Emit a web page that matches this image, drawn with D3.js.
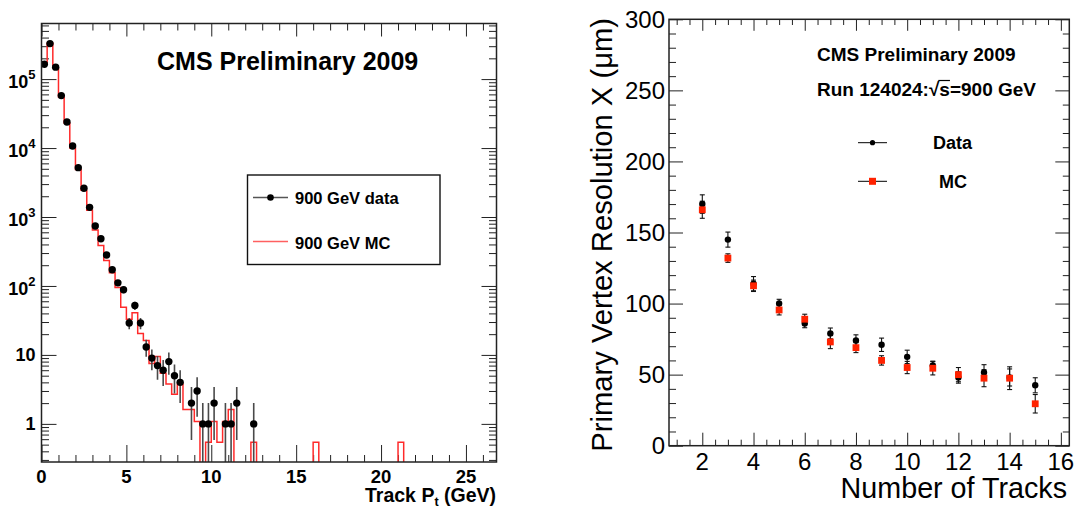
<!DOCTYPE html>
<html>
<head>
<meta charset="utf-8">
<script src="https://cdn.jsdelivr.net/npm/d3@7"></script>
<style>
  body { margin: 0; background: #fff; }
  text { font-family: "Liberation Sans", Arial, Helvetica, sans-serif; }
</style>
</head>
<body>
<svg id="chart" width="1075" height="508"></svg>
<script>
// ---- left plot: track pt spectrum (bins of 1/3 GeV) ----
const ptBinWidth = 1 / 3;
const ptDataCounts = [164000, 327000, 149000, 57600, 23900, 10700, 5200, 2610, 1380, 741,
    484, 281, 172, 111, 88, 29, 52, 29, 13, 9,
    7, 6, 8, 5, 4, 0, 2, 3, 1, 1,
    2, 0, 1, 1, 2, 0, 0, 1];
const ptMcHead = [165000, 330000, 145000, 55000, 23000, 10000, 4900, 2450, 1250, 650,
    385, 235, 155, 95, 49, 33, 41, 20.5, 16.2, 7.5,
    9.5, 5.4, 3.78, 2.7, 3.78, 1.62, 1.62, 1.08, 0, 0.54,
    1.08, 0.54, 1.08, 1.62, 0, 0, 0, 0.54];
const ptMcTail = [{ bin: 48, value: 0.54 }, { bin: 63, value: 0.54 }];
const ptXTicks = [0, 5, 10, 15, 20, 25];
const ptYDecades = [1, 10, 100, 1000, 10000, 100000];

// ---- right plot: vertex resolution vs number of tracks ----
const nTracks = [2, 3, 4, 5, 6, 7, 8, 9, 10, 11, 12, 13, 14, 15];
const resData = [170, 145, 114, 100, 86, 79, 74, 71, 62.5, 56.5, 48, 51.5, 48, 42.5];
const resDataErr = [6.5, 5.3, 5, 3, 3, 3.8, 4, 4.7, 4.7, 3, 4, 5.5, 6, 5.3];
const resMc = [166, 132, 112.5, 95.5, 89, 73, 69, 60, 55, 54.5, 50, 47.5, 47.5, 29.5];
const resMcErr = [6, 3, 4, 3.5, 3.5, 4.7, 3.5, 3.3, 4.3, 4.7, 5, 6, 8, 6.5];
const resXTicks = [2, 4, 6, 8, 10, 12, 14, 16];
const resYTicks = [0, 50, 100, 150, 200, 250, 300];

const svg = d3.select('#chart');

// draws inward ROOT-style ticks with a d3 axis, no labels
function drawTicks(axisFn, scale, pos, values, size) {
    const horiz = axisFn === d3.axisBottom || axisFn === d3.axisTop;
    svg.append('g')
        .attr('transform', horiz ? `translate(0,${pos})` : `translate(${pos},0)`)
        .call(axisFn(scale).tickValues(values).tickSize(-size).tickSizeOuter(0).tickFormat(''))
        .call(g => g.select('.domain').remove())
        .selectAll('line').attr('stroke', '#222');
}

// ================= LEFT =================
const xL = d3.scaleLinear().domain([0, 26.8]).range([41.5, 496.5]);
const yL = d3.scaleLog().domain([0.28, 6.4e5]).range([462, 23.5]);
const [lx0, lx1] = xL.range();
const [ly0, ly1] = yL.range();

svg.append('clipPath').attr('id', 'clipL')
    .append('rect').attr('x', lx0).attr('y', ly1).attr('width', lx1 - lx0).attr('height', ly0 - ly1);

const ptMinor = d3.range(0, 27, 1).filter(v => v % 5 !== 0);
drawTicks(d3.axisBottom, xL, ly0, ptXTicks, 17);
drawTicks(d3.axisBottom, xL, ly0, ptMinor, 7);
drawTicks(d3.axisTop, xL, ly1, ptXTicks, 13);
drawTicks(d3.axisTop, xL, ly1, ptMinor, 7);

const logMinor = [];
[0.1, 1, 10, 100, 1000, 10000, 100000].forEach(d => {
    for (let k = 2; k <= 9; k++) {
        const v = k * d;
        if (v >= 0.28 && v <= 6.4e5) logMinor.push(v);
    }
});
drawTicks(d3.axisLeft, yL, lx0, ptYDecades, 15);
drawTicks(d3.axisLeft, yL, lx0, logMinor, 7.5);
drawTicks(d3.axisRight, yL, lx1, ptYDecades, 15);
drawTicks(d3.axisRight, yL, lx1, logMinor, 7.5);

// MC histogram as a step line
const ptMcAll = d3.range(80).map(() => 0);
ptMcHead.forEach((v, i) => { ptMcAll[i] = v; });
ptMcTail.forEach(t => { ptMcAll[t.bin] = t.value; });
const stepPts = ptMcAll.map((v, i) => [i * ptBinWidth, v]);
stepPts.push([26.8, 0]);
const yClamp = v => v > 0 ? yL(v) : ly0 + 2;

svg.append('path')
    .attr('clip-path', 'url(#clipL)')
    .attr('d', d3.line().x(d => xL(d[0])).y(d => yClamp(d[1])).curve(d3.curveStepAfter)(stepPts))
    .attr('fill', 'none')
    .attr('stroke', '#ff2a2a')
    .attr('stroke-width', 1.5);

// data points with sqrt(N) errors
const ptData = ptDataCounts.map((n, i) => ({ x: (i + 0.5) * ptBinWidth, n }))
    .filter(d => d.n > 0);
const dataG = svg.append('g').attr('clip-path', 'url(#clipL)');
dataG.selectAll('line.err').data(ptData).join('line')
    .attr('class', 'err')
    .attr('x1', d => xL(d.x)).attr('x2', d => xL(d.x))
    .attr('y1', d => yL(d.n + Math.sqrt(d.n)))
    .attr('y2', d => yClamp(d.n - Math.sqrt(d.n)))
    .attr('stroke', '#4a4a4a')
    .attr('stroke-width', 1.6);
dataG.selectAll('circle').data(ptData).join('circle')
    .attr('cx', d => xL(d.x)).attr('cy', d => yL(d.n))
    .attr('r', 3.7)
    .attr('fill', '#000');

svg.append('rect')
    .attr('x', lx0).attr('y', ly1).attr('width', lx1 - lx0).attr('height', ly0 - ly1)
    .attr('fill', 'none').attr('stroke', '#222').attr('stroke-width', 1.5);

// tick labels
svg.append('g').selectAll('text').data(ptXTicks).join('text')
    .attr('x', d => xL(d)).attr('y', 482.5)
    .attr('text-anchor', 'middle')
    .attr('font-size', 18.5).attr('font-weight', 'bold')
    .text(d => d);

ptYDecades.forEach(v => {
    const p = Math.round(Math.log10(v));
    const t = svg.append('text')
        .attr('x', 35.5)
        .attr('text-anchor', 'end')
        .attr('font-size', 18).attr('font-weight', 'bold');
    if (p <= 1) {
        t.attr('y', yL(v) + 6.5).text(v);
    } else {
        t.attr('y', yL(v) + 9.3).text('10');
        t.append('tspan').attr('dy', -9.6).attr('font-size', 13).text(p);
    }
});

const ptTitle = svg.append('text')
    .attr('x', 496).attr('y', 501.5)
    .attr('text-anchor', 'end')
    .attr('font-size', 19.5).attr('font-weight', 'bold');
ptTitle.append('tspan').text('Track P');
ptTitle.append('tspan').attr('font-size', 12.5).attr('dy', 4).text('t');
ptTitle.append('tspan').attr('dy', -4).text(' (GeV)');

svg.append('text')
    .attr('x', 157).attr('y', 69.5)
    .attr('font-size', 25).attr('font-weight', 'bold')
    .text('CMS Preliminary 2009');

// legend
svg.append('rect')
    .attr('x', 247.5).attr('y', 175).attr('width', 192.5).attr('height', 89.5)
    .attr('fill', '#fff').attr('stroke', '#111').attr('stroke-width', 1.4);
svg.append('line').attr('x1', 253).attr('x2', 288).attr('y1', 197.5).attr('y2', 197.5)
    .attr('stroke', '#555').attr('stroke-width', 1.5);
svg.append('circle').attr('cx', 270.5).attr('cy', 197.5).attr('r', 3.3).attr('fill', '#000');
svg.append('line').attr('x1', 253).attr('x2', 288).attr('y1', 241.5).attr('y2', 241.5)
    .attr('stroke', '#ff6060').attr('stroke-width', 1.5);
svg.append('text').attr('x', 295).attr('y', 203.5)
    .attr('font-size', 16.5).attr('font-weight', 'bold').text('900 GeV data');
svg.append('text').attr('x', 295).attr('y', 248.5)
    .attr('font-size', 16.5).attr('font-weight', 'bold').text('900 GeV MC');

// ================= RIGHT =================
const xR = d3.scaleLinear().domain([0.7, 16.33]).range([669, 1069.3]);
const yR = d3.scaleLinear().domain([0, 300]).range([445.7, 19.3]);
const [rx0, rx1] = xR.range();
const [ry0, ry1] = yR.range();

const resXMinor = d3.range(1, 16.5, 0.5).filter(v => v % 2 !== 0);
const resYMinor = d3.range(10, 300, 10).filter(v => v % 50 !== 0);
drawTicks(d3.axisBottom, xR, ry0, resXTicks, 13);
drawTicks(d3.axisBottom, xR, ry0, resXMinor, 6);
drawTicks(d3.axisTop, xR, ry1, resXTicks, 11.5);
drawTicks(d3.axisTop, xR, ry1, resXMinor, 5.7);
drawTicks(d3.axisLeft, yR, rx0, resYTicks, 14);
drawTicks(d3.axisLeft, yR, rx0, resYMinor, 7);
drawTicks(d3.axisRight, yR, rx1, resYTicks, 14);
drawTicks(d3.axisRight, yR, rx1, resYMinor, 6.5);

svg.append('rect')
    .attr('x', rx0).attr('y', ry1).attr('width', rx1 - rx0).attr('height', ry0 - ry1)
    .attr('fill', 'none').attr('stroke', '#222').attr('stroke-width', 1.5);

function errorBars(vals, errs) {
    const g = svg.append('g').attr('stroke', '#111').attr('stroke-width', 1.1);
    nTracks.forEach((n, i) => {
        const x = xR(n), yTop = yR(vals[i] + errs[i]), yBot = yR(vals[i] - errs[i]);
        g.append('line').attr('x1', x).attr('x2', x).attr('y1', yTop).attr('y2', yBot);
        g.append('line').attr('x1', x - 2.5).attr('x2', x + 2.5).attr('y1', yTop).attr('y2', yTop);
        g.append('line').attr('x1', x - 2.5).attr('x2', x + 2.5).attr('y1', yBot).attr('y2', yBot);
    });
}
errorBars(resData, resDataErr);
errorBars(resMc, resMcErr);

svg.append('g').selectAll('circle').data(nTracks).join('circle')
    .attr('cx', d => xR(d)).attr('cy', (d, i) => yR(resData[i]))
    .attr('r', 3.2).attr('fill', '#000');
svg.append('g').selectAll('rect').data(nTracks).join('rect')
    .attr('x', d => xR(d) - 3.4).attr('y', (d, i) => yR(resMc[i]) - 3.4)
    .attr('width', 6.8).attr('height', 6.8).attr('fill', '#ff2200');

svg.append('g').selectAll('text').data(resXTicks).join('text')
    .attr('x', d => xR(d)).attr('y', 469.5)
    .attr('text-anchor', 'middle').attr('font-size', 24)
    .text(d => d);
svg.append('g').selectAll('text').data(resYTicks).join('text')
    .attr('x', 665).attr('y', d => yR(d) + 8.5)
    .attr('text-anchor', 'end').attr('font-size', 24)
    .text(d => d);

svg.append('text')
    .attr('x', 1067).attr('y', 498)
    .attr('text-anchor', 'end').attr('font-size', 28.7)
    .text('Number of Tracks');
svg.append('text')
    .attr('transform', 'translate(612,18) rotate(-90)')
    .attr('text-anchor', 'end').attr('font-size', 29.2)
    .text('Primary Vertex Resolution X (\u03bcm)');

svg.append('text').attr('x', 817).attr('y', 61)
    .attr('font-size', 19).attr('font-weight', 'bold')
    .text('CMS Preliminary 2009');
const runText = svg.append('text').attr('x', 817).attr('y', 96)
    .attr('font-size', 19).attr('font-weight', 'bold')
    .text('Run 124024:\u221As=900 GeV');
// overline for the square root
const node = runText.node();
const sStart = node.getSubStringLength(0, 12);
const sLen = node.getSubStringLength(12, 1);
svg.append('line')
    .attr('x1', 817 + sStart - 1).attr('x2', 817 + sStart + sLen)
    .attr('y1', 80.5).attr('y2', 80.5)
    .attr('stroke', '#000').attr('stroke-width', 1.2);

// right legend
svg.append('line').attr('x1', 858).attr('x2', 887).attr('y1', 142.7).attr('y2', 142.7)
    .attr('stroke', '#000').attr('stroke-width', 1);
svg.append('circle').attr('cx', 872.5).attr('cy', 142.7).attr('r', 2.6).attr('fill', '#000');
svg.append('line').attr('x1', 858).attr('x2', 887).attr('y1', 181.3).attr('y2', 181.3)
    .attr('stroke', '#000').attr('stroke-width', 1);
svg.append('rect').attr('x', 869).attr('y', 177.8).attr('width', 7).attr('height', 7).attr('fill', '#ff2200');
svg.append('text').attr('x', 933).attr('y', 149)
    .attr('font-size', 18).attr('font-weight', 'bold').text('Data');
svg.append('text').attr('x', 939).attr('y', 187.5)
    .attr('font-size', 18).attr('font-weight', 'bold').text('MC');
</script>
</body>
</html>
